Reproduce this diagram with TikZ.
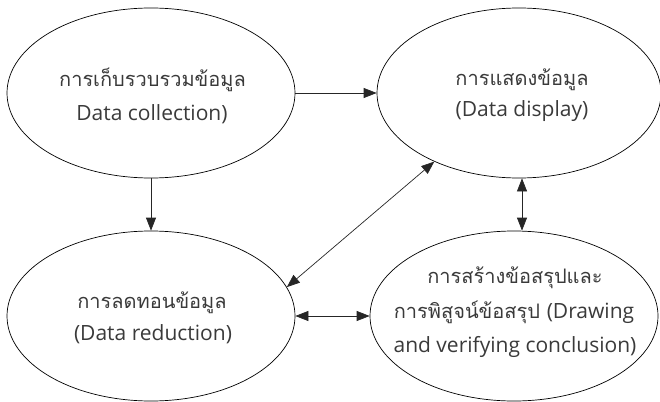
\documentclass[tikz,border=0pt]{standalone}
\usepackage{fontspec}
\setmainfont[Script=Thai]{Loma}
\newfontfamily\latf{Open Sans}
\newcommand{\lt}[1]{{\latf\fontsize{21}{26}\selectfont #1}}
\usetikzlibrary{arrows.meta,shapes.geometric}
\definecolor{txt}{HTML}{3A3A3A}
\tikzset{
  bub/.style={draw=black, line width=0.7pt, ellipse, inner sep=0pt,
    minimum width=288pt, minimum height=170pt},
  lbl/.style={anchor=base, inner sep=0pt, text=txt, font=\fontsize{20}{24}\selectfont},
  arr/.style={draw=black!85, line width=0.7pt, -{Triangle[length=13pt,width=10pt]}},
  darr/.style={draw=black!85, line width=0.7pt, {Triangle[length=13pt,width=10pt]}-{Triangle[length=13pt,width=10pt]}}
}
\begin{document}
\begin{tikzpicture}[x=1pt,y=-1pt]
\useasboundingbox (0,0) rectangle (660,401);
\node[bub] (e1) at (151,93) {};
\node[bub, minimum width=284pt] (e2) at (519,93) {};
\node[bub] (e3) at (151,316) {};
\node[bub] (e4) at (514,316) {};
\node[lbl] (t1a) at (152.5,87) {การเก็บรวบรวมข้อมูล};
\node[lbl] (t1b) at (152,120) {\lt{Data collection)}};
\node[lbl] (t2a) at (522,86) {การแสดงข้อมูล};
\node[lbl] (t2b) at (522,117) {\lt{(Data display)}};
\node[lbl] (t3a) at (152,308) {การลดทอนข้อมูล};
\node[lbl] (t3b) at (153,340) {\lt{(Data reduction)}};
\node[lbl] (t4a) at (515,283) {การสร้างข้อสรุปและ};
\node[lbl] (t4b) at (514,318) {การพิสูจน์ข้อสรุป \lt{(Drawing}};
\node[lbl] (t4c) at (515,352) {\lt{and verifying conclusion)}};
\coordinate (vx) at (522,200);
\draw[arr] (e1.east) -- (e2.west);
\draw[arr] (e1.south) -- (e3.north);
\draw[darr] (e2.219.8) -- (e3.12.8);
\draw[darr] (e2.south -| vx) -- (e4.north -| vx);
\draw[darr] (e3.east) -- (e4.west);
\end{tikzpicture}
\end{document}
